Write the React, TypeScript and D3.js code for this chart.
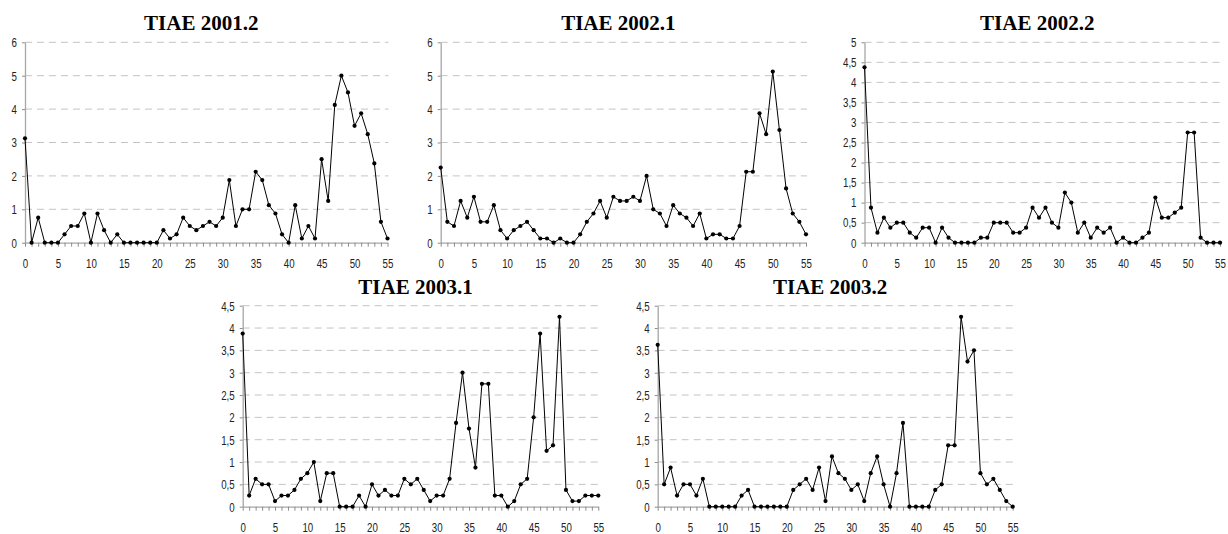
import React, { useEffect, useRef } from 'react';
import * as d3 from 'd3';

// week index on the x axis (0..55) and the labelled ticks
const weekTicks = [0, 5, 10, 15, 20, 25, 30, 35, 40, 45, 50, 55];

const tiae2001_2 = [
    3.125, 0, 0.75, 0, 0, 0, 0.25, 0.5, 0.5, 0.875,
    0, 0.875, 0.375, 0, 0.25, 0, 0, 0, 0, 0,
    0, 0.375, 0.125, 0.25, 0.75, 0.5, 0.375, 0.5, 0.625, 0.5,
    0.75, 1.875, 0.5, 1, 1, 2.125, 1.875, 1.125, 0.875, 0.25,
    0, 1.125, 0.125, 0.5, 0.125, 2.5, 1.25, 4.125, 5, 4.5,
    3.5, 3.875, 3.25, 2.375, 0.625, 0.125
];

const tiae2002_1 = [
    2.25, 0.625, 0.5, 1.25, 0.75, 1.375, 0.625, 0.625, 1.125, 0.375,
    0.125, 0.375, 0.5, 0.625, 0.375, 0.125, 0.125, 0, 0.125, 0,
    0, 0.25, 0.625, 0.875, 1.25, 0.75, 1.375, 1.25, 1.25, 1.375,
    1.25, 2, 1, 0.875, 0.5, 1.125, 0.875, 0.75, 0.5, 0.875,
    0.125, 0.25, 0.25, 0.125, 0.125, 0.5, 2.125, 2.125, 3.875, 3.25,
    5.125, 3.375, 1.625, 0.875, 0.625, 0.25
];

const tiae2002_2 = [
    4.375, 0.875, 0.25, 0.625, 0.375, 0.5, 0.5, 0.25, 0.125, 0.375,
    0.375, 0, 0.375, 0.125, 0, 0, 0, 0, 0.125, 0.125,
    0.5, 0.5, 0.5, 0.25, 0.25, 0.375, 0.875, 0.625, 0.875, 0.5,
    0.375, 1.25, 1, 0.25, 0.5, 0.125, 0.375, 0.25, 0.375, 0,
    0.125, 0, 0, 0.125, 0.25, 1.125, 0.625, 0.625, 0.75, 0.875,
    2.75, 2.75, 0.125, 0, 0, 0
];

const tiae2003_1 = [
    3.875, 0.25, 0.625, 0.5, 0.5, 0.125, 0.25, 0.25, 0.375, 0.625,
    0.75, 1, 0.125, 0.75, 0.75, 0, 0, 0, 0.25, 0,
    0.5, 0.25, 0.375, 0.25, 0.25, 0.625, 0.5, 0.625, 0.375, 0.125,
    0.25, 0.25, 0.625, 1.875, 3, 1.75, 0.875, 2.75, 2.75, 0.25,
    0.25, 0, 0.125, 0.5, 0.625, 2, 3.875, 1.25, 1.375, 4.25,
    0.375, 0.125, 0.125, 0.25, 0.25, 0.25
];

const tiae2003_2 = [
    3.625, 0.5, 0.875, 0.25, 0.5, 0.5, 0.25, 0.625, 0, 0,
    0, 0, 0, 0.25, 0.375, 0, 0, 0, 0, 0,
    0, 0.375, 0.5, 0.625, 0.375, 0.875, 0.125, 1.125, 0.75, 0.625,
    0.375, 0.5, 0.125, 0.75, 1.125, 0.5, 0, 0.75, 1.875, 0,
    0, 0, 0, 0.375, 0.5, 1.375, 1.375, 4.25, 3.25, 3.5,
    0.75, 0.5, 0.625, 0.375, 0.125, 0
];

const yTicks6 = [0, 1, 2, 3, 4, 5, 6];
const yTicks5 = [0, 0.5, 1, 1.5, 2, 2.5, 3, 3.5, 4, 4.5, 5];
const yTicks45 = [0, 0.5, 1, 1.5, 2, 2.5, 3, 3.5, 4, 4.5];

// layout of each small chart (plot box in page pixels)
const panels = [
    { title: 'TIAE 2001.2', values: tiae2001_2, yTicks: yTicks6, left: 25, right: 387.5, top: 42.3, bottom: 242.7, titleY: 29.5 },
    { title: 'TIAE 2002.1', values: tiae2002_1, yTicks: yTicks6, left: 440.7, right: 806, top: 42.3, bottom: 242.7, titleY: 29.5 },
    { title: 'TIAE 2002.2', values: tiae2002_2, yTicks: yTicks5, left: 864.5, right: 1220, top: 42.3, bottom: 242.7, titleY: 29.5 },
    { title: 'TIAE 2003.1', values: tiae2003_1, yTicks: yTicks45, left: 242.7, right: 598.3, top: 305.7, bottom: 506.7, titleY: 293.5 },
    { title: 'TIAE 2003.2', values: tiae2003_2, yTicks: yTicks45, left: 657.7, right: 1012.7, top: 305.7, bottom: 506.7, titleY: 293.5 },
];

const squeeze = 0.72; // tick labels look horizontally condensed
const labelFont = 13.5;

const App = () => {
    const ref = useRef<SVGSVGElement | null>(null);

    useEffect(() => {
        const svg = d3.select(ref.current);
        svg.selectAll('*').remove();

        panels.forEach(p => {
            const weeks = p.values.map((_, i) => i);
            const yMax = p.yTicks[p.yTicks.length - 1];

            const x = d3.scaleLinear()
                .domain([0, weeks.length - 1])
                .range([p.left, p.right]);

            const y = d3.scaleLinear()
                .domain([0, yMax])
                .range([p.bottom, p.top]);

            const g = svg.append('g');

            // dashed gridlines
            g.selectAll('.grid')
                .data(p.yTicks.filter(v => v > 0))
                .enter().append('line')
                .attr('class', 'grid')
                .attr('x1', p.left)
                .attr('x2', p.right + 1)
                .attr('y1', d => y(d))
                .attr('y2', d => y(d))
                .attr('stroke', '#c4c4c4')
                .attr('stroke-width', 1)
                .attr('stroke-dasharray', '7,5');

            // y axis
            const yAxis = g.append('g')
                .attr('transform', `translate(${p.left},0)`)
                .call(d3.axisLeft(y)
                    .tickValues(p.yTicks)
                    .tickSize(3)
                    .tickSizeOuter(0)
                    .tickPadding(5)
                    .tickFormat(d => String(d).replace('.', ',')));

            // x axis
            const xAxis = g.append('g')
                .attr('transform', `translate(0,${p.bottom})`)
                .call(d3.axisBottom(x)
                    .tickValues(weeks)
                    .tickSize(4)
                    .tickSizeOuter(0)
                    .tickPadding(11.5)
                    .tickFormat(d => (weekTicks.includes(+d) ? String(d) : '')));

            [yAxis, xAxis].forEach(ax => {
                ax.select('.domain').attr('stroke', '#a6a6a6').attr('stroke-width', 1.3);
                ax.selectAll('.tick line').attr('stroke', '#8c8c8c');
                ax.attr('font-family', '"Liberation Sans", Arial, sans-serif')
                    .attr('font-size', labelFont);
                ax.selectAll('.tick text')
                    .attr('fill', '#222')
                    .attr('transform', `scale(${squeeze},1)`);
            });
            yAxis.selectAll('.tick text').attr('x', -8 / squeeze);

            // series line and markers
            const line = d3.line<number>()
                .x((_, i) => x(i))
                .y(d => y(d));

            g.append('path')
                .datum(p.values)
                .attr('d', line)
                .attr('fill', 'none')
                .attr('stroke', '#000')
                .attr('stroke-width', 1);

            g.selectAll('.dot')
                .data(p.values)
                .enter().append('circle')
                .attr('class', 'dot')
                .attr('cx', (_, i) => x(i))
                .attr('cy', d => y(d))
                .attr('r', 2.1)
                .attr('fill', '#000');

            g.append('text')
                .attr('x', (p.left + p.right) / 2 - 5)
                .attr('y', p.titleY)
                .attr('text-anchor', 'middle')
                .attr('font-family', '"Liberation Serif", "Times New Roman", serif')
                .attr('font-weight', 'bold')
                .attr('font-size', 21)
                .attr('fill', '#000')
                .text(p.title);
        });
    }, []);

    return (
        <svg
            ref={ref}
            width={1228}
            height={534}
            style={{ position: 'absolute', left: 0, top: 0, background: '#fff' }}
        />
    );
};

export default App;
